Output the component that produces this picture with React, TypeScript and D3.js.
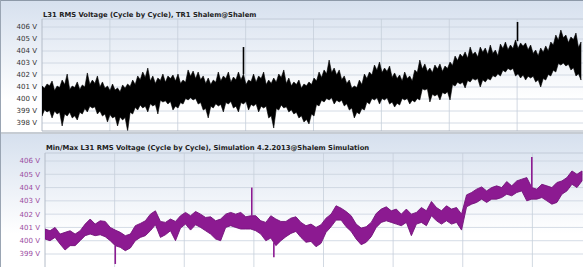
import React from "react";
import * as d3 from "d3";

// ---------- DATA ----------
const topTicks = [398, 399, 400, 401, 402, 403, 404, 405, 406];
const botTicks = [399, 400, 401, 402, 403, 404, 405, 406];
const gridTimes = [1, 2, 3, 4, 5, 6, 7];

const topTitle = "L31 RMS Voltage (Cycle by Cycle), TR1 Shalem@Shalem";
const botTitle = "Min/Max L31 RMS Voltage (Cycle by Cycle), Simulation 4.2.2013@Shalem Simulation";

// top panel: per-sample max / min, plus the troughs visible between samples
const topHi = [
  401.08, 401.25, 401.5, 401.08, 401.58, 402.08, 401.08, 401.42, 401.17, 402.17,
  401.58, 401.92, 401.42, 401.08, 401.25, 400.92, 401.17, 401.25, 401.58, 401.92,
  402.25, 402.58, 401.92, 401.75, 402.08, 401.92, 402.0, 402.08, 401.58, 402.42,
  402.33, 402.25, 401.92, 401.75, 401.58, 402.25, 401.92, 402.25, 401.83, 402.25,
  402.08, 401.58, 402.08, 401.92, 402.25, 401.58, 401.75, 402.08, 402.42, 401.75,
  401.42, 401.58, 401.25, 401.42, 401.75, 402.25, 402.42, 403.25, 402.58, 402.42,
  401.92, 401.58, 401.08, 401.58, 402.08, 402.25, 402.83, 403.08, 402.58, 402.75,
  402.17, 402.0, 402.25, 401.92, 402.42, 403.25, 402.92, 402.58, 402.83, 402.92,
  402.75, 403.08, 403.58, 403.75, 403.92, 404.33, 403.92, 404.33, 404.25, 404.5,
  404.08, 404.58, 404.75, 404.5, 404.92, 404.67, 404.67, 404.5, 404.08, 404.25,
  404.42, 404.75, 405.33, 405.75, 405.33, 405.17, 405.5, 404.75,
];
const topHiMid = [
  400.9, 401.1, 400.7, 400.95, 401.2, 400.8, 400.95, 400.8, 401.0, 401.2,
  401.3, 401.0, 400.9, 400.7, 400.75, 400.6, 400.9, 401.05, 401.2, 401.6,
  401.8, 401.5, 401.3, 401.55, 401.4, 401.7, 401.5, 401.3, 401.4, 401.9,
  401.7, 401.6, 401.3, 401.2, 401.4, 401.5, 401.7, 401.4, 401.6, 401.6,
  401.2, 401.45, 401.4, 401.7, 401.2, 401.3, 401.4, 401.8, 401.3, 401.1,
  401.2, 400.9, 401.1, 401.2, 401.5, 401.8, 402.1, 402.2, 402.0, 401.6,
  401.3, 400.9, 400.95, 401.2, 401.7, 402.0, 402.4, 402.2, 402.3, 401.8,
  401.7, 401.5, 401.7, 401.5, 402.2, 402.5, 402.3, 402.2, 402.5, 402.3,
  402.55, 402.8, 403.2, 403.5, 403.4, 403.7, 403.5, 403.9, 403.7, 403.8,
  403.6, 404.2, 404.1, 404.2, 404.2, 404.4, 404.1, 403.8, 403.6, 403.9,
  404.0, 404.5, 404.9, 405.1, 404.7, 404.95, 404.3,
];
const topLo = [
  398.58, 398.92, 398.42, 398.75, 397.75, 398.58, 398.42, 398.25, 398.75, 398.92,
  399.25, 398.75, 398.58, 398.08, 398.42, 397.75, 398.25, 397.33, 398.75, 399.08,
  399.25, 398.92, 399.42, 398.75, 399.75, 399.58, 399.08, 399.25, 399.58, 399.92,
  399.92, 399.58, 399.08, 398.42, 399.25, 399.42, 398.92, 399.58, 399.25, 398.92,
  399.58, 399.08, 399.42, 398.92, 399.25, 398.42, 397.58, 399.08, 399.25, 398.92,
  398.75, 398.42, 398.08, 397.92, 398.58, 399.42, 399.75, 399.92, 399.58, 399.75,
  399.42, 399.08, 398.42, 398.75, 399.08, 399.58, 399.92, 399.58, 399.92, 399.58,
  399.33, 399.5, 399.92, 399.58, 399.75, 399.92, 400.75, 399.75, 400.25, 399.92,
  400.42, 399.92, 401.08, 401.25, 400.92, 401.42, 401.58, 401.0, 401.42, 401.58,
  401.83, 401.92, 402.25, 402.42, 401.92, 401.75, 401.58, 401.75, 401.42, 401.0,
  401.58, 401.92, 402.25, 402.83, 402.75, 402.42, 401.92, 401.58,
];
const topLoMid = [
  399.1, 399.05, 399.0, 398.9, 398.75, 398.9, 398.6, 398.9, 399.2, 399.4,
  399.35, 399.0, 398.75, 398.7, 398.55, 398.5, 398.45, 398.9, 399.3, 399.5,
  399.4, 399.6, 399.55, 399.9, 399.85, 399.8, 399.4, 399.7, 400.05, 400.1,
  400.05, 399.7, 399.2, 399.4, 399.6, 399.55, 399.7, 399.8, 399.4, 399.7,
  399.8, 399.55, 399.6, 399.4, 399.4, 398.6, 399.2, 399.5, 399.35, 399.1,
  398.9, 398.6, 398.3, 398.75, 399.55, 399.9, 400.05, 400.1, 399.9, 399.9,
  399.6, 399.25, 398.9, 399.2, 399.75, 400.05, 400.1, 400.05, 400.1, 399.75,
  399.65, 400.05, 400.05, 399.9, 400.05, 400.85, 400.85, 400.4, 400.4, 400.55,
  400.6, 401.2, 401.4, 401.4, 401.55, 401.7, 401.7, 401.6, 401.7, 401.95,
  402.1, 402.4, 402.55, 402.55, 402.1, 402.0, 401.9, 401.9, 401.6, 401.7,
  402.05, 402.4, 402.95, 403.0, 402.9, 402.6, 402.1,
];
const topSpikes = [
  { i: 40, v: 404.33 },
  { i: 94.4, v: 406.42 },
];

// bottom panel: min / max envelope
const botHi = [
  400.88, 400.75, 401.0, 400.5, 400.63, 400.75, 400.5, 400.75, 401.25, 401.63,
  401.25, 401.5, 401.45, 401.0, 400.8, 400.63, 400.38, 400.5, 401.13, 401.3,
  401.5, 402.0, 402.25, 401.45, 401.38, 401.63, 401.45, 401.88, 402.13, 401.88,
  402.2, 402.0, 401.75, 401.8, 401.5, 401.63, 402.0, 402.13, 402.0, 402.13,
  401.8, 401.88, 401.88, 401.5, 401.38, 401.88, 401.63, 401.45, 401.45, 401.7,
  401.8, 401.38, 401.13, 401.25, 401.0, 401.2, 401.7, 402.0, 402.63, 402.45,
  402.2, 401.88, 401.25, 400.95, 401.05, 401.38, 402.05, 402.38, 402.55, 402.25,
  402.38, 402.0, 402.38, 402.0, 402.13, 402.5, 402.25, 402.95, 402.5, 402.25,
  402.63, 402.38, 402.5, 402.0, 403.45, 403.63, 403.88, 404.05, 403.75, 404.0,
  404.13, 404.0, 404.45, 404.13, 404.5, 404.63, 404.75, 404.0, 403.88, 404.25,
  404.13, 404.0, 404.38, 404.5, 404.75, 405.25, 405.0, 405.25,
];
const botLo = [
  400.13, 400.0, 400.25, 399.75, 399.3, 399.63, 399.63, 400.0, 400.38, 400.5,
  400.38, 400.45, 400.3, 400.0, 399.63, 399.5, 399.25, 399.45, 400.0, 400.25,
  400.38, 400.75, 401.2, 400.25, 400.45, 400.75, 400.0, 400.95, 401.25, 400.8,
  401.2, 401.0, 400.75, 400.5, 400.13, 400.0, 401.0, 401.13, 401.0, 400.88,
  400.88, 400.88, 400.75, 400.5, 400.0, 400.2, 399.63, 400.0, 400.3, 400.55,
  400.7, 400.25, 399.88, 399.95, 399.55, 399.8, 400.63, 401.05, 401.55, 401.55,
  401.05, 400.7, 400.13, 399.7, 399.88, 400.3, 401.0, 401.38, 401.5, 401.38,
  401.25, 401.13, 401.38, 400.38, 401.25, 401.38, 401.13, 401.88, 401.5, 401.25,
  401.5, 401.25, 401.38, 400.8, 402.55, 402.75, 402.88, 403.13, 402.88, 403.13,
  403.13, 403.25, 403.5, 403.38, 403.63, 403.75, 403.0, 403.13, 403.13, 403.25,
  403.0, 402.75, 402.88, 403.5, 403.75, 404.25, 404.0, 404.5,
];
const botSpikes = [
  { i: 41.2, v: 404.0 },
  { i: 97, v: 406.3 },
  { i: 14, v: 398.25 },
  { i: 45.6, v: 398.75 },
];

// ---------- CHART ----------
const W = 583;
const H = 267;

type Pt = { t: number; hi: number; lo: number };

type PanelProps = {
  y0: number;
  y1: number;
  plotLeft: number;
  plotTop: number;
  plotBottom: number;
  dataRight: number;
  yRange: [number, number];
  yDomain: [number, number];
  timeRight: number;
  ticks: number[];
  hi: number[];
  lo: number[];
  hiMid?: number[];
  loMid?: number[];
  spikes: { i: number; v: number }[];
  title: string;
  titleY: number;
  fill: string;
  stroke: string;
  strokeWidth: number;
  labelColor: string;
  gradId: string;
};

function Panel(p: PanelProps) {
  const n = p.hi.length;
  const x = d3.scaleLinear().domain([0, n - 1]).range([p.plotLeft, p.dataRight]);
  const y = d3.scaleLinear().domain(p.yDomain).range(p.yRange);
  const t = d3.scaleLinear().domain([0, 8]).range([p.plotLeft, p.timeRight]);
  const pts: Pt[] = [];
  for (let i = 0; i < n; i++) {
    pts.push({ t: i, hi: p.hi[i], lo: p.lo[i] });
    if (p.hiMid && p.loMid && i < n - 1) {
      pts.push({ t: i + 0.5, hi: p.hiMid[i], lo: p.loMid[i] });
    }
  }
  const area = d3
    .area<Pt>()
    .x((d) => x(d.t))
    .y0((d) => y(d.lo))
    .y1((d) => y(d.hi))
    .curve(d3.curveLinear);
  const interp = (arr: number[], i: number) => {
    const a = Math.floor(i);
    const b = Math.min(n - 1, a + 1);
    const f = i - a;
    return arr[a] * (1 - f) + arr[b] * f;
  };
  return (
    <g>
      <defs>
        <linearGradient id={p.gradId} x1="0" y1="0" x2="0" y2="1">
          <stop offset="0" stopColor="#d6e0ee" />
          <stop offset="0.75" stopColor="#ffffff" />
          <stop offset="1" stopColor="#ffffff" />
        </linearGradient>
        <clipPath id={p.gradId + "c"}>
          <rect x={p.plotLeft} y={p.plotTop} width={W - p.plotLeft} height={p.plotBottom - p.plotTop} />
        </clipPath>
      </defs>
      <rect x={0} y={p.y0} width={W} height={p.y1 - p.y0} fill={`url(#${p.gradId})`} />
      {p.ticks.map((v) => (
        <line key={"h" + v} x1={p.plotLeft} x2={W} y1={y(v)} y2={y(v)} stroke="#c9d2de" strokeWidth={0.8} />
      ))}
      {gridTimes.map((g) => (
        <line key={"v" + g} x1={t(g)} x2={t(g)} y1={p.plotTop} y2={p.plotBottom} stroke="#c6cfdb" strokeWidth={0.8} />
      ))}
      <line x1={p.plotLeft} x2={W} y1={p.plotTop} y2={p.plotTop} stroke="#c2cbd8" strokeWidth={1} />
      <line x1={p.plotLeft} x2={p.plotLeft} y1={p.plotTop} y2={p.plotBottom} stroke="#b4bcc8" strokeWidth={1} />
      <g clipPath={`url(#${p.gradId}c)`}>
        <path d={area(pts) || ""} fill={p.fill} stroke={p.stroke} strokeWidth={p.strokeWidth} strokeLinejoin="miter" />
        {p.spikes.map((s, k) => {
          const hiV = interp(p.hi, s.i);
          const loV = interp(p.lo, s.i);
          const base = s.v > hiV ? hiV : loV;
          return (
            <line key={k} x1={x(s.i)} x2={x(s.i)} y1={y(base)} y2={y(s.v)} stroke={p.fill} strokeWidth={1.6} />
          );
        })}
      </g>
      {p.ticks.map((v) => (
        <text
          key={"t" + v}
          x={p.plotLeft - 5}
          y={y(v)}
          dy="0.35em"
          textAnchor="end"
          fontFamily="DejaVu Sans, Verdana, sans-serif"
          fontSize={7}
          fill={p.labelColor}
        >
          {v} V
        </text>
      ))}
      <text
        x={p.plotLeft + 1}
        y={p.titleY}
        fontFamily="DejaVu Sans, Verdana, sans-serif"
        fontSize={6.8}
        fontWeight="bold"
        fill="#222"
      >
        {p.title}
      </text>
    </g>
  );
}

export default function App() {
  return (
    <svg width={W} height={H} style={{ position: "absolute", left: 0, top: 0, display: "block" }}>
      <rect x={0} y={0} width={W} height={H} fill="#ffffff" />
      <Panel
        y0={0}
        y1={133}
        plotLeft={42}
        plotTop={19}
        plotBottom={131}
        dataRight={581}
        yDomain={[398, 406]}
        yRange={[123, 27]}
        timeRight={585}
        ticks={topTicks}
        hi={topHi}
        lo={topLo}
        hiMid={topHiMid}
        loMid={topLoMid}
        spikes={topSpikes}
        title={topTitle}
        titleY={16.5}
        fill="#000000"
        stroke="#000000"
        strokeWidth={0.6}
        labelColor="#333333"
        gradId="gTop"
      />
      <Panel
        y0={134}
        y1={267}
        plotLeft={45}
        plotTop={153}
        plotBottom={267}
        dataRight={582}
        yDomain={[399, 406]}
        yRange={[254, 161]}
        timeRight={602}
        ticks={botTicks}
        hi={botHi}
        lo={botLo}
        spikes={botSpikes}
        title={botTitle}
        titleY={150}
        fill="#8c1a91"
        stroke="#74137a"
        strokeWidth={0.9}
        labelColor="#9a4a9f"
        gradId="gBot"
      />
      <line x1={0} x2={W} y1={0.5} y2={0.5} stroke="#8d99a8" strokeWidth={1} />
      <line x1={0} x2={W} y1={133} y2={133} stroke="#8d99a8" strokeWidth={1.2} />
      <line x1={0.5} x2={0.5} y1={0} y2={H} stroke="#9aa5b3" strokeWidth={1} />
      <line x1={42} x2={W} y1={131} y2={131} stroke="#a8b1bd" strokeWidth={1} />
    </svg>
  );
}
